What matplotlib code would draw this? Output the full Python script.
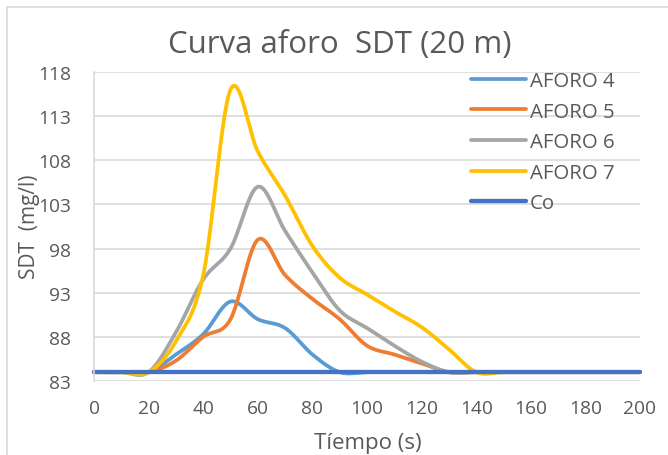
import numpy as np
import matplotlib
matplotlib.use("Agg")
import matplotlib.pyplot as plt
from matplotlib.patches import Rectangle

plt.rcParams['font.family'] = ['Open Sans', 'DejaVu Sans']

# Sampling times (s)
tiempo = [0, 10, 20, 30, 40, 50, 60, 70, 80, 90, 100,
          110, 120, 130, 140, 150, 160, 170, 180, 190, 200]

# SDT concentration (mg/l) for each gauging run
aforo_4 = [84, 84, 84, 86, 88.3, 92, 90, 89, 86, 84, 84,
           84, 84, 84, 84, 84, 84, 84, 84, 84, 84]
aforo_5 = [84, 84, 84, 85.3, 88, 90, 99, 95, 92.3, 90, 87,
           86, 85, 84, 84, 84, 84, 84, 84, 84, 84]
aforo_6 = [84, 84, 84, 88.5, 94.5, 98, 105, 100, 95.3, 91, 89,
           87, 85.2, 84, 84, 84, 84, 84, 84, 84, 84]
aforo_7 = [84, 84, 84, 87.5, 95, 116, 109, 104, 98.3, 94.7, 92.8,
           90.9, 89.1, 86.6, 84, 84, 84, 84, 84, 84, 84]
co = [84] * len(tiempo)

series = [
    ("AFORO 4", aforo_4, "#5B9BD5"),
    ("AFORO 5", aforo_5, "#ED7D31"),
    ("AFORO 6", aforo_6, "#A5A5A5"),
    ("AFORO 7", aforo_7, "#FFC000"),
]

y_ticks = [83, 88, 93, 98, 103, 108, 113, 118]
x_ticks = [0, 20, 40, 60, 80, 100, 120, 140, 160, 180, 200]


def smooth(x, y, n=24):
    """Catmull-Rom curve through the points (spreadsheet-style smoothed line)."""
    x = np.asarray(x, float)
    y = np.asarray(y, float)
    xs, ys = [], []
    k = len(x)
    for i in range(k - 1):
        i0 = max(i - 1, 0)
        i3 = min(i + 2, k - 1)
        mx1 = (x[i + 1] - x[i0]) / 2
        mx2 = (x[i3] - x[i]) / 2
        my1 = (y[i + 1] - y[i0]) / 2
        my2 = (y[i3] - y[i]) / 2
        t = np.linspace(0, 1, n, endpoint=(i == k - 2))
        h00 = 2 * t**3 - 3 * t**2 + 1
        h10 = t**3 - 2 * t**2 + t
        h01 = -2 * t**3 + 3 * t**2
        h11 = t**3 - t**2
        xs.append(h00 * x[i] + h10 * mx1 + h01 * x[i + 1] + h11 * mx2)
        ys.append(h00 * y[i] + h10 * my1 + h01 * y[i + 1] + h11 * my2)
    return np.concatenate(xs), np.concatenate(ys)


W, H = 668, 456
fig = plt.figure(figsize=(W / 100, H / 100), dpi=100)
fig.patch.set_facecolor("white")

# chart-area border
fig.patches.append(Rectangle((7 / W, -0.1), 1.2, 1 - 8 / H + 0.1,
                             transform=fig.transFigure, fill=False,
                             edgecolor="#D9D9D9", linewidth=1.2))

ax = fig.add_axes([94 / W, 1 - 382 / H, (640 - 94) / W, (382 - 73) / H])
text_color = "#595959"

for label, vals, color in series:
    xs, ys = smooth(tiempo, vals)
    ax.plot(xs, ys, color=color, linewidth=2.7, label=label,
            solid_capstyle="round", clip_on=False)
ax.plot(tiempo, co, color="#4472C4", linewidth=3.1, label="Co",
        solid_capstyle="round", clip_on=False)

ax.set_xlim(0, 200)
ax.set_ylim(83, 118)
ax.set_xticks(x_ticks)
ax.set_yticks(y_ticks)
ax.tick_params(length=0, labelsize=13.8, colors=text_color)
ax.tick_params(axis="x", pad=13)
ax.tick_params(axis="y", pad=16.5)
ax.grid(axis="y", color="#D9D9D9", linewidth=1.2)
ax.set_axisbelow(True)
for s in ("top", "right", "bottom"):
    ax.spines[s].set_visible(False)
ax.spines["left"].set_color("#D9D9D9")
ax.spines["left"].set_linewidth(1.2)

fig.text(340 / W, 1 - 45 / H, "Curva aforo  SDT (20 m)", ha="center",
         va="center", fontsize=22.5, color=text_color)
fig.text(368 / W, 1 - 444 / H, "Tíempo (s)", ha="center", va="center",
         fontsize=16, color=text_color)
fig.text(29 / W, 1 - 227 / H, "SDT  (mg/l)", ha="center", va="center",
         rotation=90, fontsize=15, color=text_color)

leg = ax.legend(loc="upper left", bbox_to_anchor=(471 / W, 1 - 72 / H),
                bbox_transform=fig.transFigure, frameon=False, fontsize=14.7,
                handlelength=2.7, handletextpad=0.2, labelspacing=0.52,
                borderpad=0, borderaxespad=0)
for t in leg.get_texts():
    t.set_color(text_color)

fig.savefig("out.png", dpi=100)
